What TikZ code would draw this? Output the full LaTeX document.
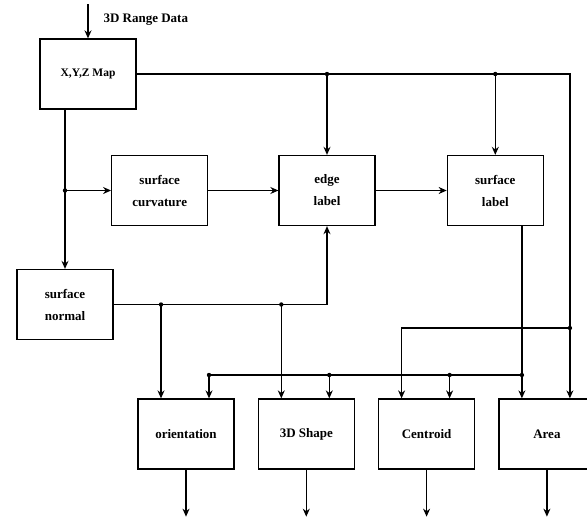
\documentclass[tikz,border=0pt]{standalone}
\usepackage{fontspec}
\setmainfont{Liberation Serif}
\usepackage{tikz}
\usetikzlibrary{positioning,arrows.meta}

\begin{document}
\begin{tikzpicture}[
x=1pt, y=-1pt,
node distance=23pt,
box/.style={draw, line width=1.3pt, minimum width=96pt, minimum height=70pt, inner sep=0pt, align=center, font=\fontsize{13}{22}\selectfont\bfseries},
arrow/.style={-{Stealth[length=8pt,width=7pt]}, line width=1.2pt},
wire/.style={line width=1.2pt}
]
\useasboundingbox (0,0) rectangle (587,517);

% blocks
\node[box, font=\fontsize{11.5}{13}\selectfont\bfseries] (xyz) at (88,74) {X,Y,Z Map};
\node[box] (edge) at (327,190.5) {edge\\label};
\node[box, left=70pt of edge] (curv) {surface\\curvature};
\node[box, right=71pt of edge] (slabel) {surface\\label};
\node[box] (normal) at (65,304.5) {surface\\normal};
\node[box] (orient) at (186,434) {orientation};
\node[box, right=of orient] (shape) {3D Shape};
\node[box, right=of shape] (cent) {Centroid};
\node[box, right=of cent] (area) {Area};

% in / out
\coordinate (datain) at ([yshift=34pt]xyz.north);
\node[anchor=base west, font=\fontsize{13}{15}\selectfont\bfseries] (rangelbl) at (100,22.5) {3D Range Data};
\draw[arrow] (datain) -- (xyz.north);
\foreach \blk in {orient,shape,cent,area} {
  \coordinate (\blk-in1) at ([xshift=-25pt]\blk.north);
  \coordinate (\blk-in2) at ([xshift=23pt]\blk.north);
  \coordinate (\blk-out) at ([yshift=-47pt]\blk.south);
  \draw[arrow] (\blk.south) -- (\blk-out);
}
\coordinate (busy) at (0,375);
\coordinate (brny) at (0,328);

% x,y,z map
\draw[arrow] (xyz.east) -- (area-in2 |- xyz.east) -- (area-in2);
\draw[arrow] (edge.north |- xyz.east) -- (edge.north);
\draw[arrow] (slabel.north |- xyz.east) -- (slabel.north);
\draw[arrow] (xyz.south -| normal.north) -- (normal.north);
\draw[arrow] (normal.north |- curv.west) -- (curv.west);
\fill (edge.north |- xyz.east) circle (2.2pt) (slabel.north |- xyz.east) circle (2.2pt)
  (normal.north |- curv.west) circle (2.2pt);

% middle row
\draw[arrow] (curv) -- (edge);
\draw[arrow] (edge) -- (slabel);

% surface normal
\draw[arrow] (normal.east) -- (edge.south |- normal.east) -- (edge.south);
\draw[arrow] (orient-in1 |- normal.east) -- (orient-in1);
\draw[arrow] (shape-in1 |- normal.east) -- (shape-in1);
\fill (orient-in1 |- normal.east) circle (2.2pt) (shape-in1 |- normal.east) circle (2.2pt);

% surface label
\draw[arrow] (slabel.south -| area-in1) -- (area-in1);
\draw[wire] (area-in1 |- busy) -- (orient-in2 |- busy);
\foreach \blk in {orient,shape,cent} {
  \draw[arrow] (\blk-in2 |- busy) -- (\blk-in2);
  \fill (\blk-in2 |- busy) circle (2.2pt);
}
\fill (area-in1 |- busy) circle (2.2pt);

% branch to centroid
\draw[arrow] (area-in2 |- brny) -- (cent-in1 |- brny) -- (cent-in1);
\fill (area-in2 |- brny) circle (2.2pt);
\end{tikzpicture}
\end{document}
